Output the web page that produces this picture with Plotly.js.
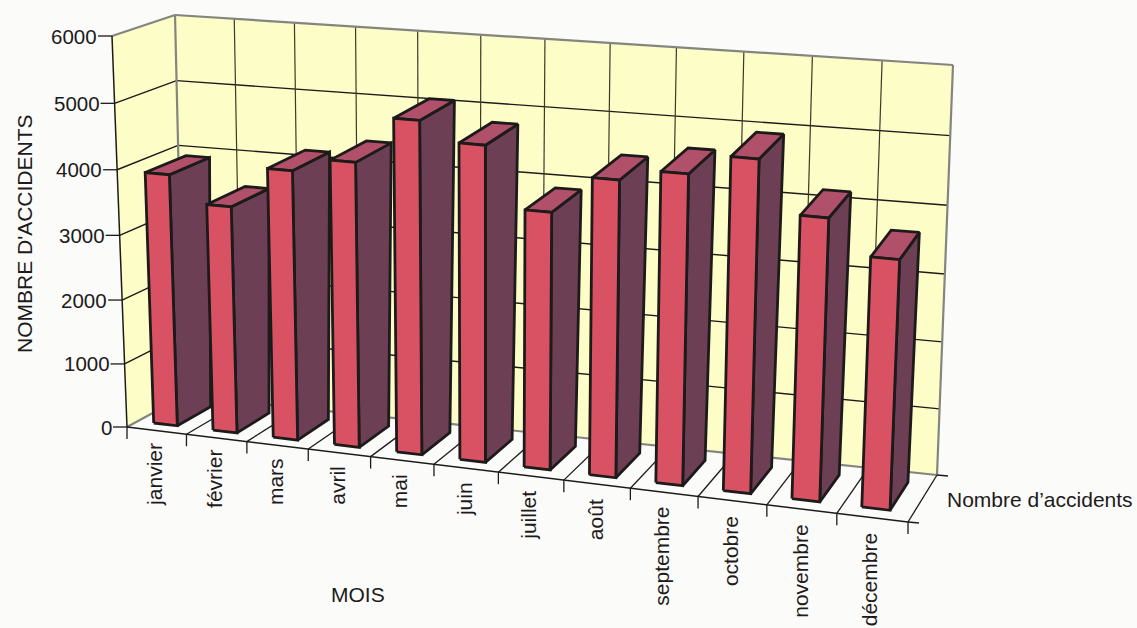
<!DOCTYPE html>
<html><head><meta charset="utf-8">
<script src="https://cdn.plot.ly/plotly-3.0.1.min.js"></script>
<style>html,body{margin:0;padding:0;background:#fbfbfa}</style></head>
<body><div id="chart" style="width:1137px;height:628px"></div>
<script>
var months = ["janvier","février","mars","avril","mai","juin","juillet","août","septembre","octobre","novembre","décembre"];
var accidents = [3910,3510,4140,4350,5050,4770,3875,4435,4610,4910,4160,3660];
var valueTicks = [0,1000,2000,3000,4000,5000,6000];
var seriesName = "Nombre d’accidents";
var maxValue = 6000;

// Projection of the 3D box onto the page: corners named by front/back, left/right, bottom/top
var C = {fl0:[127,427], fr0:[908,522], bl0:[184,396], br0:[937,475],
         fl1:[112,36],  fr1:[925,102], bl1:[175,15],  br1:[953,65]};
function warp(u,r){return u/(u+r*(1-u));}
function proj(u,val,w){
  var s=warp(u,1.103), v=warp(val/maxValue,1.04), out=[];
  for(var k=0;k<2;k++){
    var b0=(1-w)*((1-s)*C.fl0[k]+s*C.fr0[k])+w*((1-s)*C.bl0[k]+s*C.br0[k]);
    var b1=(1-w)*((1-s)*C.fl1[k]+s*C.fr1[k])+w*((1-s)*C.bl1[k]+s*C.br1[k]);
    out.push((1-v)*b0+v*b1);
  }
  return out;
}
var traces=[];
function poly(pts,fill,lineColor,lw){
  traces.push({type:'scatter',mode:'lines',x:pts.map(function(p){return p[0]}).concat(pts[0][0]),
    y:pts.map(function(p){return p[1]}).concat(pts[0][1]),fill:'toself',fillcolor:fill,
    line:{color:lineColor,width:lw},hoverinfo:'skip',showlegend:false});
}
function seg(a,b,color,lw){
  traces.push({type:'scatter',mode:'lines',x:[a[0],b[0]],y:[a[1],b[1]],
    line:{color:color,width:lw},hoverinfo:'skip',showlegend:false});
}
var WALL='#fdfdc8', GRID='#3a3a28', EDGE='#85857f', INK='#1d1a1a';
// walls
poly([proj(0,0,0),proj(0,maxValue,0),proj(0,maxValue,1),proj(0,0,1)],WALL,WALL,0.5);
poly([proj(0,0,1),proj(0,maxValue,1),proj(1,maxValue,1),proj(1,0,1)],WALL,WALL,0.5);
// grid on walls
valueTicks.forEach(function(t){
  if(t===0||t===maxValue) return;
  seg(proj(0,t,0),proj(0,t,1),INK,1.4);
  seg(proj(0,t,1),proj(1,t,1),INK,1.4);
});
months.forEach(function(m,i){ if(i>0) seg(proj(i/12,0,1),proj(i/12,maxValue,1),GRID,1.2); });
// floor lines
months.forEach(function(m,i){ if(i>0) seg(proj(i/12,0,0),proj(i/12,0,1),INK,1.3); });
// wall outlines
seg(proj(0,maxValue,0),proj(0,maxValue,1),EDGE,2.2);
seg(proj(0,maxValue,1),proj(1,maxValue,1),EDGE,2.2);
seg(proj(0,0,1),proj(0,maxValue,1),EDGE,2.2);
seg(proj(1,0,1),proj(1,maxValue,1),EDGE,2.2);
seg(proj(0,0,0),proj(0,0,1),EDGE,2.2);
seg(proj(0,0,1),proj(1,0,1),EDGE,2.2);
// axes
seg(proj(0,0,0),proj(0,maxValue,0),INK,1.5);
seg(proj(0,0,0),proj(1,0,0),INK,1.5);
seg(proj(1,0,0),proj(1,0,1),INK,1.3);
var anns=[];
valueTicks.forEach(function(t){
  var p=proj(0,t,0);
  seg([p[0]-14,p[1]],p,INK,1.3);
  anns.push({x:p[0]-15,y:p[1],text:String(t),xanchor:'right',yanchor:'middle',showarrow:false,font:{size:20.5}});
});
for(var i=0;i<=12;i++){ var q=proj(i/12,0,0); seg(q,[q[0],q[1]+12],INK,1.3); }
// series-axis ticks
[0,1].forEach(function(w){var q=proj(1,0,w); seg(q,[q[0]+11,q[1]+1],INK,1.3);});
// bars, left to right; the rear of a bar recedes slightly further with height, as in the source perspective
var U0=0.27,U1=0.67,W0=0.19,W1=0.79;
accidents.forEach(function(val,i){
  var u0=(i+U0)/12,u1=(i+U1)/12, wt=W1+0.12*val/maxValue;
  poly([proj(u1,0,W0),proj(u1,val,W0),proj(u1,val,wt),proj(u1,0,W1)],'#6c3f55',INK,2.8);
  poly([proj(u0,val,W0),proj(u0,val,wt),proj(u1,val,wt),proj(u1,val,W0)],'#b1506a',INK,2.8);
  poly([proj(u0,0,W0),proj(u0,val,W0),proj(u1,val,W0),proj(u1,0,W0)],'#d85264',INK,2.8);
});
// labels
months.forEach(function(m,i){
  var frac=(i+0.5)/12, p=proj(frac,0,0);
  anns.push({x:p[0]-2,y:p[1]+12+4*frac,text:m,textangle:-90,xanchor:'center',yanchor:'top',showarrow:false,font:{size:21}});
});
anns.push({x:947,y:499,text:seriesName,xanchor:'left',yanchor:'middle',showarrow:false,font:{size:21}});
anns.push({x:24,y:234,text:"NOMBRE D'ACCIDENTS",textangle:-90,xanchor:'center',yanchor:'middle',showarrow:false,font:{size:21}});
anns.push({x:358,y:594,text:"MOIS",xanchor:'center',yanchor:'middle',showarrow:false,font:{size:21}});
var hidden={visible:false,fixedrange:true};
Plotly.newPlot('chart',traces,{
  width:1137,height:628,margin:{l:0,r:0,t:0,b:0},
  paper_bgcolor:'#fbfbfa',plot_bgcolor:'#fbfbfa',showlegend:false,
  font:{family:'"Liberation Sans",Arial,sans-serif',color:'#1d1a1a'},
  xaxis:Object.assign({range:[0,1137]},hidden),
  yaxis:Object.assign({range:[628,0]},hidden),
  annotations:anns.map(function(a){a.xref='x';a.yref='y';a.borderpad=0;a.borderwidth=0;a.captureevents=false;return a;})
},{displayModeBar:false,staticPlot:true});
</script></body></html>
